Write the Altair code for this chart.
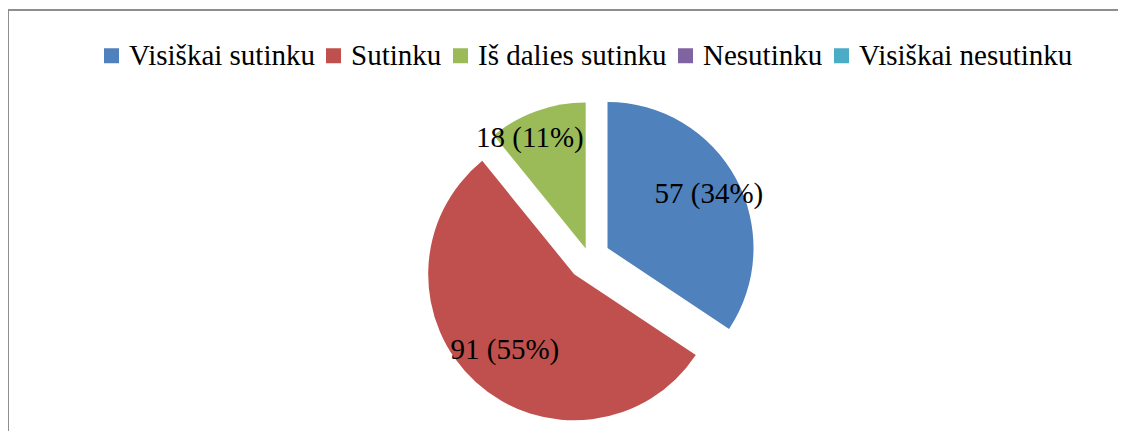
import altair as alt
import pandas as pd

# ---- data ----
categories = ["Visiškai sutinku", "Sutinku", "Iš dalies sutinku", "Nesutinku", "Visiškai nesutinku"]
counts = [57, 91, 18, 0, 0]

# ---- styles ----
colors = ["#4F81BD", "#C0504D", "#9BBB59", "#8064A2", "#4BACC6"]
explode_px = [21, 22, 10, 0, 0]          # slice explosion distance
label_radius = [115, 103, 124, 0, 0]     # label distance from slice centre
label_dtheta = [0, 0, -7.2, 0, 0]        # label angle nudge (deg)

W, H = 1110, 423
CX, CY = 581, 250
R = 146
FONT = "Liberation Serif"
BORDER = "#8E8E8E"

df = pd.DataFrame({
    "cat": categories,
    "n": counts,
    "order": list(range(len(categories))),
    "explode": explode_px,
    "lr": label_radius,
    "ldt": label_dtheta,
})

base = (
    alt.Chart(df)
    .transform_joinaggregate(total="sum(n)")
    .transform_window(cum="sum(n)", sort=[alt.SortField("order")], frame=[None, 0])
    .transform_calculate(
        start="2*PI*(datum.cum - datum.n)/datum.total",
        end="2*PI*datum.cum/datum.total",
    )
    .transform_calculate(mid="(datum.start + datum.end)/2")
    .transform_calculate(
        px=f"{CX} + datum.explode*sin(datum.mid)",
        py=f"{CY} - datum.explode*cos(datum.mid)",
    )
    .transform_calculate(
        lx="datum.px + datum.lr*sin(datum.mid + datum.ldt*PI/180)",
        ly="datum.py - datum.lr*cos(datum.mid + datum.ldt*PI/180)",
        label="datum.n + ' (' + round(100*datum.n/datum.total) + '%)'",
    )
)

arcs = base.mark_arc(outerRadius=R).encode(
    theta=alt.Theta("start:Q", scale=None),
    theta2=alt.Theta2("end:Q"),
    x=alt.X("px:Q", scale=None, axis=None),
    y=alt.Y("py:Q", scale=None, axis=None),
    color=alt.Color(
        "cat:N",
        scale=alt.Scale(domain=categories, range=colors),
        legend=alt.Legend(
            labelFont=FONT, labelFontSize=29, labelColor="#000000",
            symbolSize=225, symbolType="square", symbolStrokeWidth=0,
            orient="none", legendX=89, legendY=33,
            direction="horizontal", labelLimit=600, title=None,
            labelOffset=3, columnPadding=4,
        ),
    ),
)

labels = base.transform_filter("datum.n > 0").mark_text(
    font=FONT, fontSize=29, color="black", align="center", baseline="middle"
).encode(
    x=alt.X("lx:Q", scale=None, axis=None),
    y=alt.Y("ly:Q", scale=None, axis=None),
    text="label:N",
)

one = pd.DataFrame({"k": [0]})
left_border = alt.Chart(one).mark_rule(color=BORDER, strokeWidth=2).encode(
    x=alt.value(0), y=alt.value(2), y2=alt.value(H)
)
top_border = alt.Chart(one).mark_rule(color=BORDER, strokeWidth=2).encode(
    x=alt.value(0), x2=alt.value(W), y=alt.value(2)
)

chart = alt.layer(left_border, top_border, arcs, labels).properties(
    width=W,
    height=H,
    autosize=alt.AutoSizeParams(type="none"),
    padding=0,
    view=alt.ViewBackground(stroke=None),
)

chart.save("out.html", embed_options={"renderer": "svg", "actions": False})
